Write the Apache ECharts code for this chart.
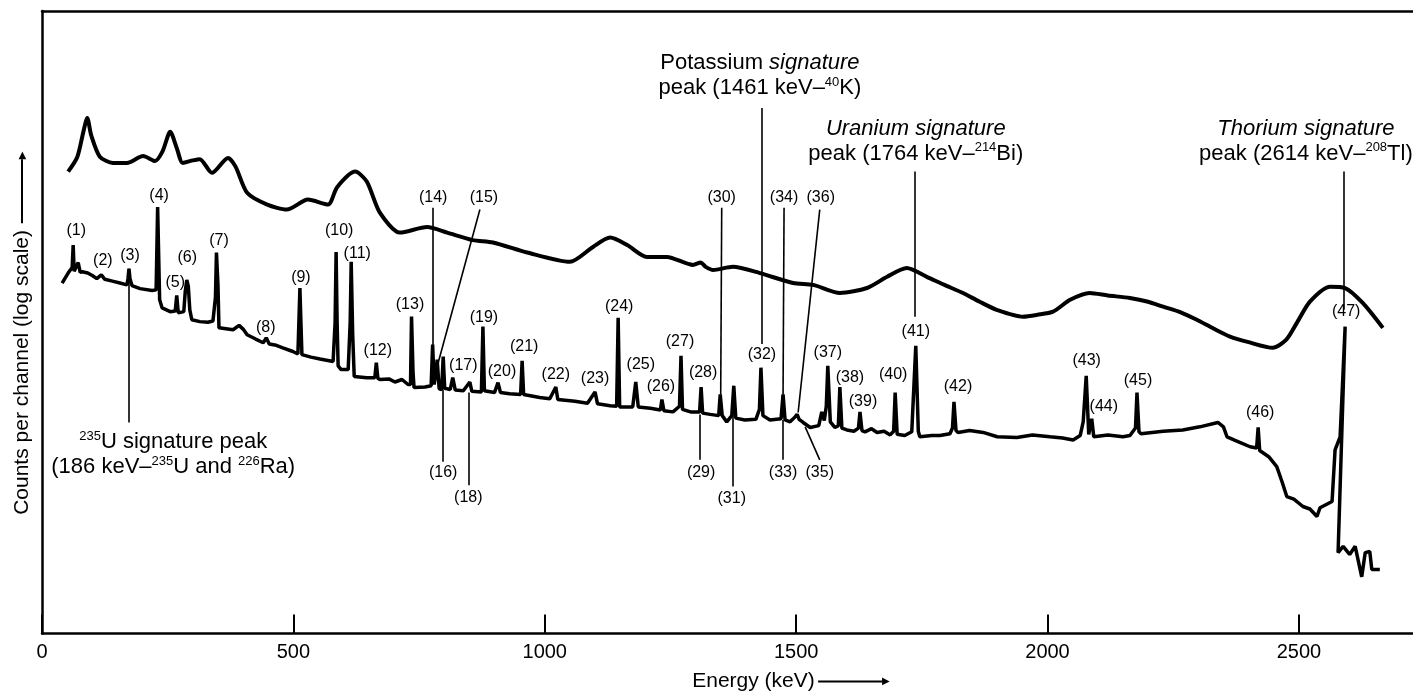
<!DOCTYPE html>
<html>
<head>
<meta charset="utf-8">
<script src="https://cdn.jsdelivr.net/npm/echarts@6/dist/echarts.min.js"></script>
<style>
  html, body { margin: 0; padding: 0; background: #fff; }
  #chart { width: 1413px; height: 697px; }
</style>
</head>
<body>
<div id="chart"></div>
<script>
// x: energy (keV), y: counts per channel on an arbitrary log scale (0-100)
var energyTicks = [0, 500, 1000, 1500, 2000, 2500];

// upper spectrum (smooth, low resolution detector)
var upperSpectrum = [
  [52, 74.2], [70, 76.5], [82, 80.5], [90, 82.8], [98, 80.0], [115, 76.6], [141, 75.6],
  [169, 75.6], [201, 76.7], [225, 75.9], [240, 77.5], [255, 80.6], [268, 78.0], [280, 75.6],
  [300, 76.0], [314, 76.2], [338, 74.0], [370, 76.4], [385, 75.0], [408, 70.8], [448, 68.9],
  [487, 68.1], [529, 69.7], [569, 68.9], [587, 71.7], [623, 74.2], [646, 72.6], [672, 67.6],
  [712, 64.4], [766, 65.3], [806, 64.4], [857, 63.2], [897, 62.8], [965, 61.2], [1050, 59.7],
  [1096, 62.1], [1130, 63.6], [1164, 62.4], [1203, 60.5], [1243, 60.5], [1295, 59.2],
  [1310, 59.6], [1320, 58.9], [1335, 58.4], [1374, 58.9], [1428, 57.9], [1494, 56.3],
  [1534, 56.0], [1587, 54.7], [1641, 55.5], [1681, 57.3], [1720, 58.7], [1760, 57.3],
  [1795, 56.0], [1832, 54.7], [1865, 53.3], [1899, 52.0], [1951, 50.9], [1980, 51.2],
  [2011, 51.7], [2045, 53.6], [2084, 54.7], [2120, 54.3], [2164, 53.9], [2200, 53.3],
  [2230, 52.5], [2265, 51.6], [2297, 50.4], [2330, 49.0], [2363, 47.7], [2400, 46.8],
  [2448, 45.9], [2475, 47.2], [2496, 49.9], [2522, 53.3], [2562, 55.7], [2592, 55.5],
  [2627, 53.1], [2667, 49.1]
];

// lower spectrum (high resolution detector, sharp peaks)
var lowerSpectrum = [
  [40, 56.3], [52, 57.9], [60, 58.8], [62, 62.4], [64, 58.2], [66, 58.4], [72, 59.6],
  [76, 58.0], [80, 58.1], [91, 57.9], [100, 57.5], [109, 57.0], [118, 57.6], [125, 56.9],
  [140, 56.6], [155, 56.3], [169, 56.0], [171, 57.0], [173, 58.6], [175, 57.0], [179, 55.9],
  [195, 55.4], [219, 55.1], [227, 55.2], [230, 68.5], [234, 53.6], [239, 52.3], [255, 51.7],
  [265, 51.8], [268, 54.3], [271, 51.5], [282, 51.7], [285, 55.0], [288, 56.8], [291, 55.8],
  [294, 52.0], [298, 50.4], [314, 50.1], [330, 50.0], [340, 50.2], [345, 54.0], [347, 61.2],
  [350, 56.0], [352, 49.1], [354, 48.8], [380, 48.8], [392, 49.5], [400, 48.9], [408, 48.0],
  [425, 47.3], [440, 46.7], [446, 47.5], [452, 46.5], [466, 46.3], [479, 45.9], [499, 45.3],
  [509, 44.9], [513, 55.5], [515, 50.0], [517, 44.8], [535, 44.4], [553, 44.1], [579, 43.7],
  [583, 50.0], [585, 61.3], [587, 50.0], [589, 43.0], [595, 42.4], [609, 42.4], [613, 50.0],
  [615, 59.7], [618, 48.0], [621, 41.3], [646, 41.1], [662, 41.1], [665, 43.5], [668, 41.0],
  [672, 40.8], [690, 40.9], [702, 40.4], [716, 40.8], [728, 40.0], [733, 40.0], [735, 50.9],
  [738, 42.0], [740, 39.5], [762, 39.6], [774, 39.8], [777, 46.4], [780, 40.0], [784, 42.0],
  [786, 44.0], [790, 39.3], [795, 39.2], [798, 44.5], [801, 39.4], [812, 39.2], [817, 41.1],
  [822, 39.1], [838, 39.0], [851, 40.4], [855, 38.9], [874, 38.8], [877, 49.3], [880, 39.0],
  [900, 38.7], [907, 40.3], [912, 38.7], [930, 38.5], [952, 38.4], [955, 43.8], [958, 38.4],
  [990, 37.9], [1010, 37.7], [1022, 39.6], [1026, 37.6], [1060, 37.3], [1085, 37.0],
  [1100, 38.8], [1105, 36.9], [1130, 36.6], [1143, 36.5], [1146, 50.7], [1149, 36.4],
  [1175, 36.4], [1181, 40.4], [1186, 36.4], [1210, 36.2], [1230, 35.9], [1233, 37.6],
  [1237, 35.8], [1255, 35.6], [1268, 36.5], [1271, 44.6], [1274, 36.0], [1290, 35.6],
  [1308, 35.6], [1311, 39.6], [1314, 35.4], [1329, 35.2], [1346, 35.0], [1349, 38.4],
  [1353, 35.0], [1362, 34.0], [1372, 35.0], [1376, 39.8], [1380, 34.6], [1398, 34.3],
  [1420, 34.4], [1427, 36.0], [1430, 42.7], [1434, 35.0], [1448, 34.3], [1470, 34.5],
  [1474, 38.4], [1478, 34.3], [1488, 34.0], [1498, 34.8], [1502, 35.2], [1506, 34.4],
  [1514, 33.9], [1528, 33.1], [1545, 33.4], [1551, 35.6], [1556, 34.2], [1560, 36.5],
  [1563, 43.0], [1568, 34.0], [1577, 33.1], [1584, 33.4], [1587, 39.6], [1591, 33.0],
  [1601, 32.7], [1615, 32.5], [1624, 33.0], [1627, 35.6], [1631, 32.6], [1637, 32.4],
  [1650, 32.9], [1661, 32.3], [1675, 32.5], [1687, 31.9], [1694, 32.5], [1697, 38.7],
  [1701, 32.0], [1716, 31.8], [1730, 32.4], [1738, 46.2], [1743, 32.5], [1746, 31.6],
  [1770, 31.8], [1786, 31.8], [1806, 32.1], [1811, 33.0], [1814, 37.2], [1818, 32.6],
  [1822, 32.3], [1845, 32.6], [1872, 32.3], [1900, 31.6], [1939, 31.5], [1970, 31.9],
  [2005, 31.6], [2030, 31.4], [2051, 31.1], [2065, 31.8], [2071, 34.0], [2077, 41.4],
  [2082, 32.0], [2085, 31.8], [2088, 34.5], [2092, 31.6], [2120, 31.9], [2150, 31.6],
  [2164, 31.8], [2175, 33.0], [2178, 38.7], [2182, 32.4], [2186, 32.1], [2230, 32.5],
  [2269, 32.7], [2303, 33.2], [2339, 33.9], [2350, 33.2], [2357, 31.6], [2380, 30.8],
  [2403, 30.0], [2416, 29.8], [2419, 33.1], [2422, 29.4], [2440, 28.4], [2456, 26.8],
  [2466, 24.5], [2476, 22.0], [2490, 21.6], [2508, 20.4], [2522, 20.0], [2536, 18.8],
  [2542, 20.2], [2566, 21.2], [2572, 29.5], [2582, 31.6], [2592, 49.3], [2578, 13.0],
  [2588, 14.0], [2601, 12.7], [2612, 14.0], [2625, 9.1], [2632, 13.0], [2641, 13.2],
  [2645, 10.3], [2661, 10.3]
];

// peak numbers: [label, energy, level]
var peakLabels = [
  ["(1)", 68, 64.7], ["(2)", 121, 59.9], ["(3)", 175, 60.7], ["(4)", 233, 70.3],
  ["(5)", 265, 56.3], ["(6)", 289, 60.4], ["(7)", 352, 63.1], ["(8)", 445, 49.1],
  ["(9)", 515, 57.1], ["(10)", 591, 64.8], ["(11)", 627, 61.0], ["(12)", 668, 45.4],
  ["(13)", 732, 52.8], ["(14)", 778, 70.1], ["(15)", 879, 70.0], ["(16)", 798, 25.8],
  ["(17)", 838, 43.0], ["(18)", 848, 21.8], ["(19)", 879, 50.7], ["(20)", 915, 42.1],
  ["(21)", 959, 46.1], ["(22)", 1022, 41.6], ["(23)", 1100, 40.9], ["(24)", 1148, 52.5],
  ["(25)", 1191, 43.2], ["(26)", 1231, 39.6], ["(27)", 1269, 46.9], ["(28)", 1315, 41.9],
  ["(29)", 1311, 25.8], ["(30)", 1352, 70.0], ["(31)", 1372, 21.7], ["(32)", 1432, 44.8],
  ["(33)", 1474, 25.8], ["(34)", 1476, 70.0], ["(35)", 1547, 25.8], ["(36)", 1549, 70.0],
  ["(37)", 1563, 45.1], ["(38)", 1607, 41.1], ["(39)", 1633, 37.2], ["(40)", 1693, 41.6],
  ["(41)", 1738, 48.5], ["(42)", 1822, 39.6], ["(43)", 2078, 43.8], ["(44)", 2112, 36.4],
  ["(45)", 2180, 40.6], ["(46)", 2423, 35.5], ["(47)", 2594, 51.7]
];

// leader lines from labels to peaks: [[e1, v1], [e2, v2]]
var leaderLines = [
  [[173, 58.6], [173, 33.9]],
  [[778, 68.4], [778, 46.1]],
  [[871, 68.1], [786, 42.9]],
  [[798, 39.2], [798, 27.6]],
  [[849, 38.7], [849, 23.8]],
  [[1309, 35.2], [1309, 27.9]],
  [[1352, 68.4], [1350, 38.4]],
  [[1374, 39.8], [1374, 23.6]],
  [[1432, 84.4], [1432, 46.5]],
  [[1476, 68.4], [1474, 38.4]],
  [[1474, 34.3], [1474, 27.9]],
  [[1518, 33.2], [1547, 27.9]],
  [[1547, 68.1], [1504, 35.5]],
  [[1736, 74.2], [1736, 50.9]],
  [[2590, 74.2], [2590, 52.0]]
];

// signature peak notes: [rich text, energy, level]
var signatureNotes = [
  ["{n|Potassium }{i|signature}\n{n|peak (1461 keV–}{s|40}{n|K)}", 1428, 89.6],
  ["{i|Uranium signature}\n{n|peak (1764 keV–}{s|214}{n|Bi)}", 1738, 79.1],
  ["{i|Thorium signature}\n{n|peak (2614 keV–}{s|208}{n|Tl)}", 2514, 79.1],
  ["{s|235}{n|U signature peak}\n{n|(186 keV–}{s|235}{n|U and }{s|226}{n|Ra)}", 261, 28.7]
];

var FONT = "Liberation Sans, Arial, Helvetica, sans-serif";
var INK = "#000";

var chart = echarts.init(document.getElementById("chart"));

var option = {
  animation: false,
  backgroundColor: "#fff",
  grid: {
    left: 42,
    right: 0,
    top: 11,
    bottom: 63,
  },
  xAxis: [
    {
      type: "value",
      min: 0,
      max: 2727,
      interval: 500,
      name: "{t|Energy (keV)} {l| }{h|▶}",
      nameLocation: "middle",
      nameGap: 36,
      nameTextStyle: {
        padding: [0, 0, 0, 127],
        rich: {
          t: { fontSize: 21, fontFamily: FONT, color: INK, lineHeight: 24 },
          l: { width: 64, height: 2, backgroundColor: INK },
          h: { fontSize: 10, color: INK, fontFamily: "DejaVu Sans" },
        },
      },
      axisLine: { lineStyle: { color: INK, width: 2.5 } },
      axisTick: { inside: true, length: 19, lineStyle: { color: INK, width: 2 } },
      axisLabel: {
        fontSize: 20,
        fontFamily: FONT,
        color: INK,
        margin: 9,
        showMaxLabel: false,
        formatter: function (v) {
          return energyTicks.indexOf(v) >= 0 ? String(v) : "";
        },
      },
      splitLine: { show: false },
    },
    {
      // top frame line only
      type: "value",
      position: "top",
      min: 0,
      max: 2727,
      axisLine: { show: true, lineStyle: { color: INK, width: 2.5 } },
      axisTick: { show: false },
      axisLabel: { show: false },
      splitLine: { show: false },
    },
  ],
  yAxis: {
    type: "value",
    min: 0,
    max: 100,
    name: "{t|Counts per channel (log scale)}  {l| }{h|▶}",
    nameLocation: "middle",
    nameRotate: 90,
    nameGap: 8,
    nameTextStyle: {
      padding: [0, 22, 0, 0],
      rich: {
        t: { fontSize: 21, fontFamily: FONT, color: INK, lineHeight: 24 },
        l: { width: 64, height: 2, backgroundColor: INK },
        h: { fontSize: 10, color: INK, fontFamily: "DejaVu Sans" },
      },
    },
    axisLine: { show: true, lineStyle: { color: INK, width: 2.5 } },
    axisTick: { show: false },
    axisLabel: { show: false },
    splitLine: { show: false },
  },
  series: [
    {
      name: "upper",
      type: "line",
      data: upperSpectrum,
      showSymbol: false,
      smooth: 0.25,
      lineStyle: { color: INK, width: 4 },
      z: 3,
    },
    {
      name: "lower",
      type: "line",
      data: lowerSpectrum,
      showSymbol: false,
      lineStyle: { color: INK, width: 3.5, join: "bevel" },
      z: 3,
    },
    {
      name: "peaks",
      type: "scatter",
      symbolSize: 0,
      silent: true,
      itemStyle: { opacity: 1, color: INK },
      data: peakLabels.map(function (p) {
        return { name: p[0], value: [p[1], p[2]] };
      }),
      label: {
        show: true,
        position: "inside",
        formatter: "{b}",
        fontSize: 16,
        fontFamily: FONT,
        color: INK,
        opacity: 1,
      },
      markLine: {
        silent: true,
        symbol: ["none", "none"],
        label: { show: false },
        lineStyle: { color: INK, width: 1.6, type: "solid", opacity: 1 },
        data: leaderLines.map(function (l) {
          return [{ coord: l[0] }, { coord: l[1] }];
        }),
      },
      z: 4,
    },
    {
      name: "notes",
      type: "scatter",
      symbolSize: 0,
      silent: true,
      itemStyle: { opacity: 1, color: INK },
      data: signatureNotes.map(function (n) {
        return { name: n[0], value: [n[1], n[2]] };
      }),
      label: {
        show: true,
        position: "inside",
        align: "center",
        formatter: "{b}",
        opacity: 1,
        rich: {
          n: { fontSize: 22, fontFamily: FONT, color: INK, lineHeight: 25 },
          i: { fontSize: 22, fontFamily: FONT, fontStyle: "italic", color: INK, lineHeight: 25 },
          s: { fontSize: 13, fontFamily: FONT, color: INK, lineHeight: 14, verticalAlign: "top" },
        },
      },
      z: 4,
    },
  ],
};

chart.setOption(option);
</script>
</body>
</html>
